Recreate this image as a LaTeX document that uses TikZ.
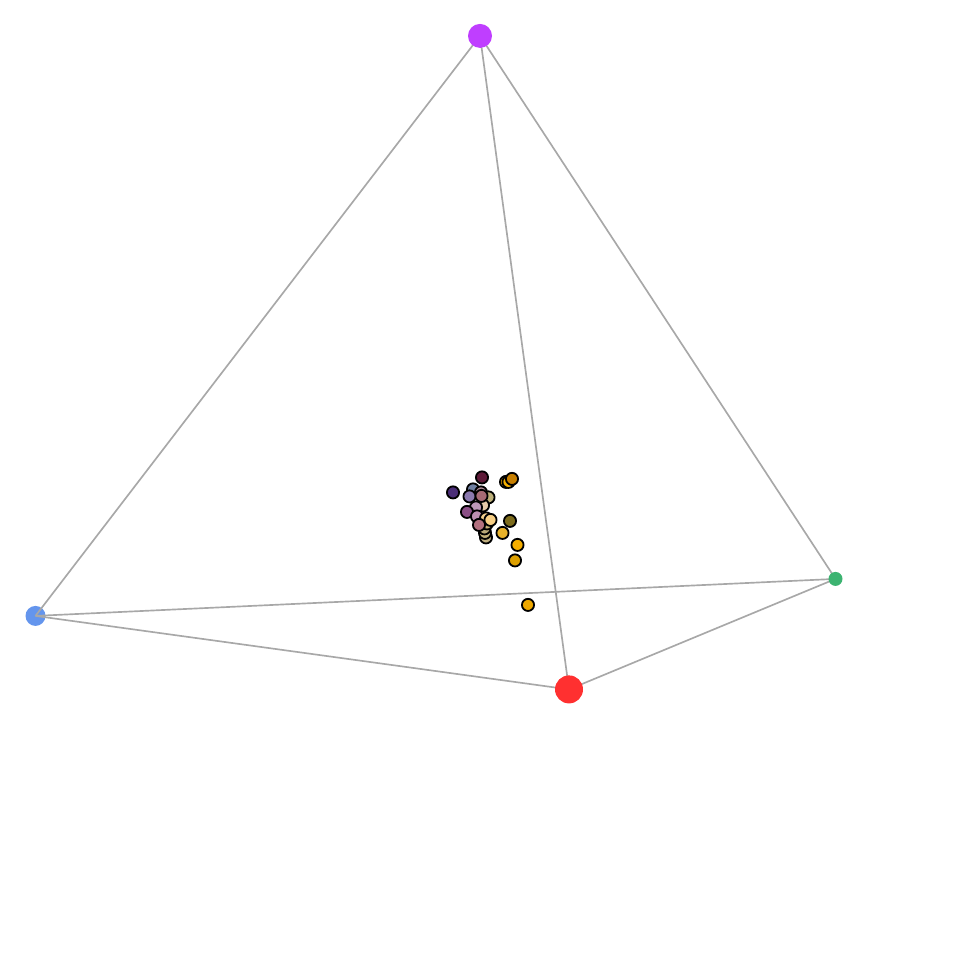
\documentclass[tikz,border=0pt]{standalone}
\begin{document}
\begin{tikzpicture}[x=0.75pt,y=-0.75pt,
  edge/.style={draw=black!34,line width=1.25pt},
  hub/.style={circle,draw=none,inner sep=0pt,outer sep=0pt},
  dot/.style={circle,draw=black,line width=1.35pt,minimum size=9.1pt,inner sep=0pt,outer sep=0pt}]
\useasboundingbox (0,-0.4) rectangle (960,959.6);
\definecolor{cblue}{HTML}{6495ED}
\definecolor{cred}{HTML}{FF3030}
\definecolor{cgreen}{HTML}{3CB371}
\definecolor{cpurple}{HTML}{BF3EFF}
\node[hub,fill=cblue,minimum size=15pt] (blue) at (35.5,615.5) {};
\coordinate (pc) at (480,35.5);
\coordinate (rc) at (569,689);
\coordinate (gc) at (835.5,578.5);
\coordinate (bc) at (35.5,615.5);
\draw[edge] (pc) -- (bc);
\draw[edge] (pc) -- (rc);
\draw[edge] (pc) -- (gc);
\draw[edge] (bc) -- (gc);
\draw[edge] (bc) -- (rc);
\draw[edge] (rc) -- (gc);
\node[hub,fill=cpurple,minimum size=18pt] (purple) at (pc) {};
\node[hub,fill=cred,minimum size=21pt] (red) at (rc) {};
\node[hub,fill=cgreen,minimum size=10.5pt] (green) at (gc) {};
\foreach \n/\x/\y/\c in {
 a1/528/604.5/EEA800, a2/515/560/DDA000, a3/517.5/544.5/F5AE00, a4/502.5/532.5/E8B22A,
 a5/510/520.5/7D6C1C, a6/486/537/BFAE7F, a7/485/532.5/C2B07A, a8/484.5/528/B8A878,
 a9/487/523/C9B27A, b1/506/481.5/F0A800, b2/508.5/481.5/F5B000, b3/512/478.5/C77F00,
 b4/482/477/5E1A38, b5/453/492/4B2E78, b6/473/489/6F7FA0, b7/481/492/B08C98,
 b8/488.5/497/BDB07A, b9/483/505/E5C9A8, c1/469.5/496/8B79AE, c2/481.5/495.5/A66A75,
 c3/476/507/BC96B8, c4/467/511.5/8B4F86, c5/477/516/BC8FB0, c6/486/518/F2CE8C,
 c7/479/524.5/B2707F, c8/490.5/519.5/F7CF85} {
  \definecolor{tmp}{HTML}{\c}
  \node[dot,fill=tmp] (\n) at (\x,\y) {};
}
\end{tikzpicture}
\end{document}
